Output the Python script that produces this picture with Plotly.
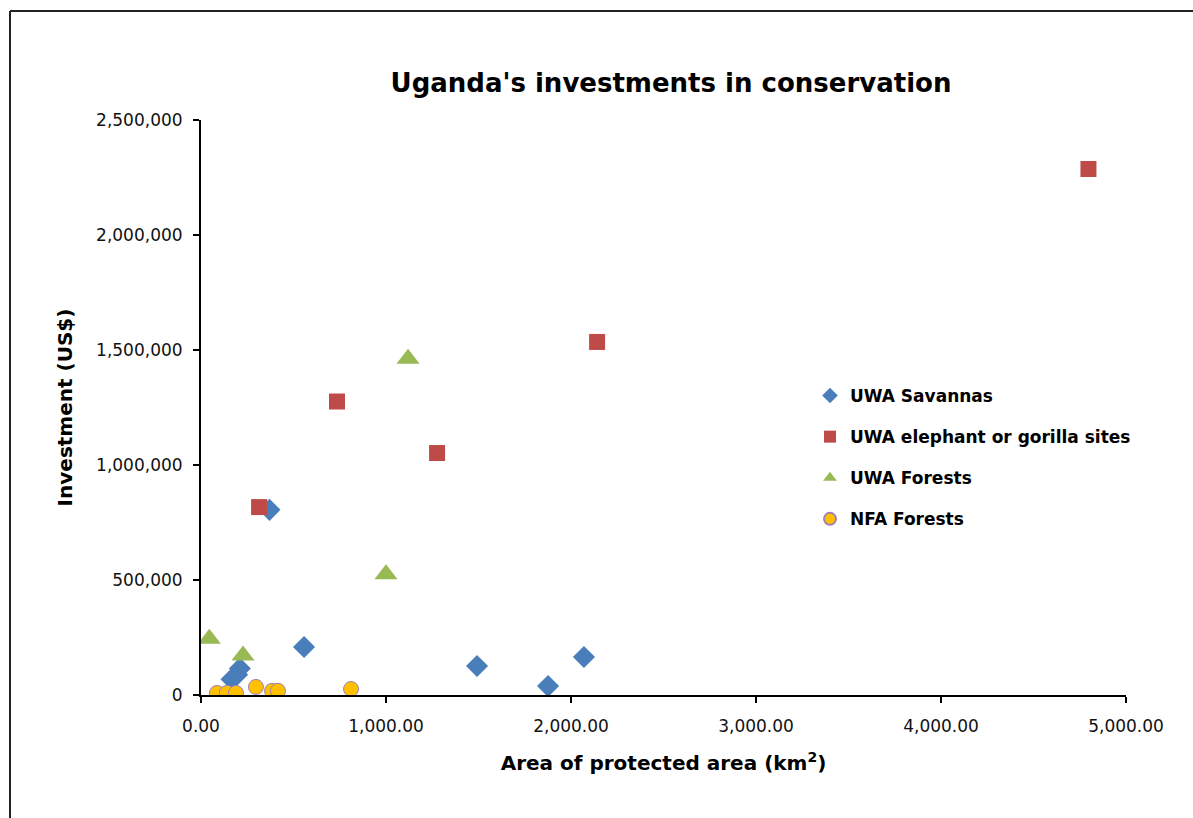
import plotly.graph_objects as go

# Data (area km², investment US$)
sav_x = [370, 557, 1492, 1876, 2070, 210, 195, 165]
sav_y = [805000, 209000, 126000, 39000, 165000, 115000, 88000, 68000]

ele_x = [314, 735, 1276, 2141, 4797]
ele_y = [817000, 1276000, 1052000, 1535000, 2287000]

uwf_x = [45, 227, 1000, 1119]
uwf_y = [245000, 172000, 525000, 1462000]

nfa_x = [86, 140, 189, 297, 384, 416, 811]
nfa_y = [9000, 9000, 9000, 35000, 18000, 18000, 26000]

x_ticks = [0, 1000, 2000, 3000, 4000, 5000]
y_ticks = [0, 500000, 1000000, 1500000, 2000000, 2500000]

FONT = "DejaVu Sans"
fig = go.Figure()
fig.add_trace(go.Scatter(x=sav_x, y=sav_y, mode="markers", name="<b>UWA Savannas</b>",
                         legendgroup="a",
                         marker=dict(symbol="diamond", size=17, color="#4a7ebb",
                                     line=dict(width=0))))
fig.add_trace(go.Scatter(x=ele_x, y=ele_y, mode="markers", name="<b>UWA elephant or gorilla sites</b>",
                         legendgroup="b",
                         marker=dict(symbol="square", size=16, color="#be4b48",
                                     line=dict(width=0))))
fig.add_trace(go.Scatter(x=uwf_x, y=uwf_y, mode="markers", name="<b>UWA Forests</b>",
                         legendgroup="c",
                         marker=dict(symbol="triangle-up", size=20, color="#98b954",
                                     line=dict(width=0))))
fig.add_trace(go.Scatter(x=nfa_x, y=nfa_y, mode="markers", name="<b>NFA Forests</b>",
                         legendgroup="d",
                         marker=dict(symbol="circle", size=15, color="#ffc000",
                                     line=dict(width=1, color="#9e80b8"))))

L, T, W, H = 201, 120, 925, 575
fig.update_layout(
    width=1193, height=818,
    margin=dict(l=L, r=1193 - L - W, t=T, b=818 - T - H),
    paper_bgcolor="white", plot_bgcolor="white",
    title=dict(text="<b>Uganda's investments in conservation</b>", x=671 / 1193, xanchor="center",
               y=1 - 83 / 818, yanchor="middle",
               font=dict(family=FONT, size=26, color="#000")),
    showlegend=True,
    legend=dict(x=(810 - L) / W, y=(695 - 378) / H, xanchor="left", yanchor="top",
                font=dict(family=FONT, size=17, color="#000"),
                tracegroupgap=16, itemsizing="constant", bgcolor="rgba(0,0,0,0)",
                itemwidth=30),
    xaxis=dict(range=[0, 5000], tickvals=x_ticks, ticktext=[f"{v:,.2f}" for v in x_ticks],
               showgrid=False, zeroline=False, showline=True, linecolor="#000", linewidth=2,
               ticks="outside", ticklen=6, tickwidth=2, tickcolor="#000",
               tickfont=dict(family=FONT, size=17, color="#111"), ticklabelstandoff=9,
               title=dict(text="<b>Area of protected area (km<sup>2</sup>)</b>",
                          font=dict(family=FONT, size=20, color="#000"), standoff=21)),
    yaxis=dict(range=[0, 2500000], tickvals=y_ticks, ticktext=[f"{v:,}" for v in y_ticks],
               showgrid=False, zeroline=False, showline=True, linecolor="#000", linewidth=2,
               ticks="outside", ticklen=6, tickwidth=2, tickcolor="#000",
               tickfont=dict(family=FONT, size=17, color="#111"), ticklabelstandoff=7,
               title=dict(text="<b>Investment (US$)</b>",
                          font=dict(family=FONT, size=20, color="#000"), standoff=18)),
)

# Outer chart border (top and left visible in reference)
bx0 = (10 - L) / W
by0 = (T + H - 11) / H
fig.add_shape(type="line", xref="paper", yref="paper", x0=bx0, x1=1.3, y0=by0, y1=by0,
              line=dict(color="#222", width=2))
fig.add_shape(type="line", xref="paper", yref="paper", x0=bx0, x1=bx0, y0=by0, y1=-0.4,
              line=dict(color="#222", width=2))

fig.write_html("out.html", config={"displayModeBar": False},
               post_script="document.body.style.margin='0';document.body.style.overflow='hidden';")
